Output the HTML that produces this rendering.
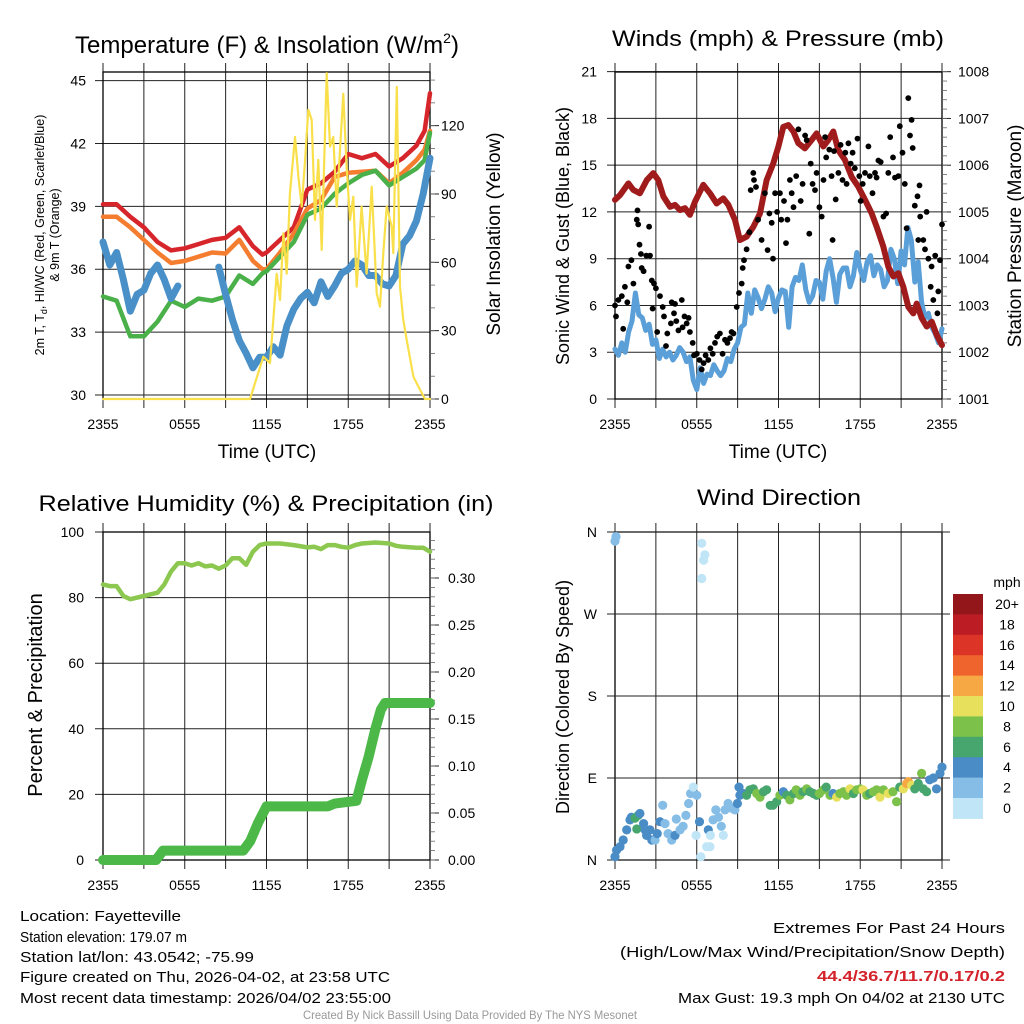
<!DOCTYPE html>
<html><head><meta charset="utf-8"><title>Mesonet Station Summary</title>
<style>
html,body{margin:0;padding:0;background:#fff;}
svg{display:block;font-family:"Liberation Sans",Arial,sans-serif;}
</style></head>
<body>
<svg id="chart" width="1024" height="1024" viewBox="0 0 1024 1024" xmlns="http://www.w3.org/2000/svg">
<rect x="0" y="0" width="1024" height="1024" fill="#fff"/>
<!-- Titles -->
<text x="267" y="53" font-size="24" text-anchor="middle">Temperature (F) &amp; Insolation (W/m<tspan font-size="14" dy="-10">2</tspan><tspan dy="10">)</tspan></text>
<text x="778" y="46" font-size="22" text-anchor="middle" textLength="332" lengthAdjust="spacingAndGlyphs">Winds (mph) &amp; Pressure (mb)</text>
<text x="266" y="511" font-size="22" text-anchor="middle" textLength="455" lengthAdjust="spacingAndGlyphs">Relative Humidity (%) &amp; Precipitation (in)</text>
<text x="779" y="505" font-size="22" text-anchor="middle" textLength="164" lengthAdjust="spacingAndGlyphs">Wind Direction</text>
<!-- Axis titles -->
<text x="267" y="458" font-size="19" text-anchor="middle">Time (UTC)</text>
<text x="778" y="458" font-size="19" text-anchor="middle">Time (UTC)</text>
<text transform="translate(44,235) rotate(-90)" font-size="12.5" text-anchor="middle">2m T, T<tspan font-size="9" dy="3">d</tspan><tspan dy="-3">, HI/WC (Red, Green, Scarlet/Blue)</tspan></text>
<text transform="translate(59,235) rotate(-90)" font-size="12.5" text-anchor="middle">&amp; 9m T (Orange)</text>
<text transform="translate(500,234) rotate(-90)" font-size="19" text-anchor="middle">Solar Insolation (Yellow)</text>
<text transform="translate(569,236) rotate(-90)" font-size="18" text-anchor="middle">Sonic Wind &amp; Gust (Blue, Black)</text>
<text transform="translate(1021,236) rotate(-90)" font-size="19" text-anchor="middle">Station Pressure (Maroon)</text>
<text transform="translate(42,695) rotate(-90)" font-size="20" text-anchor="middle">Percent &amp; Precipitation</text>
<text transform="translate(569,697) rotate(-90)" font-size="18" text-anchor="middle">Direction (Colored By Speed)</text>
<!-- Footer -->
<g font-size="14.5">
<text x="20" y="921" textLength="161" lengthAdjust="spacingAndGlyphs">Location: Fayetteville</text>
<text x="20" y="942" textLength="167" lengthAdjust="spacingAndGlyphs">Station elevation: 179.07 m</text>
<text x="20" y="962" textLength="234" lengthAdjust="spacingAndGlyphs">Station lat/lon: 43.0542; -75.99</text>
<text x="20" y="982" textLength="370" lengthAdjust="spacingAndGlyphs">Figure created on Thu, 2026-04-02, at 23:58 UTC</text>
<text x="20" y="1003" textLength="371" lengthAdjust="spacingAndGlyphs">Most recent data timestamp: 2026/04/02 23:55:00</text>
</g>
<g font-size="15" text-anchor="end">
<text x="1005" y="933" textLength="232" lengthAdjust="spacingAndGlyphs">Extremes For Past 24 Hours</text>
<text x="1005" y="957" textLength="385" lengthAdjust="spacingAndGlyphs">(High/Low/Max Wind/Precipitation/Snow Depth)</text>
<text x="1005" y="981" fill="#d3222a" font-weight="bold" textLength="188" lengthAdjust="spacingAndGlyphs">44.4/36.7/11.7/0.17/0.2</text>
<text x="1005" y="1003" textLength="327" lengthAdjust="spacingAndGlyphs">Max Gust: 19.3 mph On 04/02 at 2130 UTC</text>
</g>
<text x="470" y="1019" font-size="12" fill="#999" text-anchor="middle" textLength="334" lengthAdjust="spacingAndGlyphs">Created By Nick Bassill Using Data Provided By The NYS Mesonet</text>
<g id="layers"></g>
</svg>
<script>
// ---------- Panel 1 data ----------
const timeTickLabels = ["2355","0555","1155","1755","2355"];
const tempTimes = [0,1,2,3,4,5,6,7,8,9,10,11,11.7,12,13,14,15,16,17,18,19,20,21,22,23,23.6,24];
const tempRed = [39.1,39.1,38.5,38.0,37.3,36.9,37.0,37.2,37.4,37.5,38.0,37.1,36.7,36.8,37.4,38.0,39.8,40.1,40.65,41.5,41.3,41.5,40.9,41.3,41.9,42.6,44.4];
const tempOrange = [38.5,38.5,38.0,37.4,36.8,36.3,36.4,36.6,36.8,36.75,37.4,36.4,36.0,36.0,36.8,37.7,38.9,39.3,40.4,40.6,40.65,40.7,40.1,40.6,41.2,41.7,42.6];
const tempGreen = [34.7,34.5,32.8,32.8,33.5,34.5,34.2,34.6,34.5,34.7,35.7,35.3,35.8,35.9,36.6,37.3,38.6,38.9,39.6,40.1,40.5,40.7,40.0,40.4,40.8,41.2,42.5];
const blueTimes = [0,0.5,1,1.5,2,2.5,3,3.5,4,4.5,5,5.5,6,6.5,7,7.5,8,8.5,9,9.5,10,10.5,11,11.5,12,12.5,13,13.5,14,14.5,15,15.5,16,16.5,17,17.5,18,18.5,19,19.5,20,20.5,21,21.5,22,22.5,23,23.5,24];
const tempBlue = [37.3,36.2,36.8,35.5,34.0,34.8,35.0,35.8,36.2,35.5,34.6,35.2,null,null,null,null,null,36.1,34.8,33.6,32.6,32.0,31.3,31.8,31.8,32.3,31.9,33.3,34.1,34.6,34.9,34.4,35.4,34.7,35.2,35.8,36.0,36.4,36.2,35.7,35.7,35.3,35.2,35.7,37.2,37.6,38.3,39.6,41.3];
const solarTimes = [0,10.79,11.77,12.26,12.5,12.75,12.99,13.24,13.48,13.72,14.09,14.34,14.58,14.83,15.07,15.32,15.56,15.8,16.05,16.42,16.66,16.9,17.15,17.64,17.88,18.13,18.37,18.62,18.98,19.35,19.72,20.09,20.33,20.57,20.82,21.19,21.31,21.56,21.8,22.04,22.29,22.78,23.27,23.63,24];
const solarValues = [0,0,18.6,15.7,34.7,55,43.5,72.7,55,90,115,97.6,84.5,105,127,122.5,78.6,105,65.4,143,110.8,115,84.5,134,102,78.6,88.8,49.3,84.5,55,93.2,46.4,40.5,64,84.5,75.6,64,137,49.3,34.7,25.9,9.8,4,0,0];
const tempTicks = [30,33,36,39,42,45];
const solarTicks = [0,30,60,90,120];
// ---------- Panel 2 data ----------
const pressTimes = [0,0.37,0.98,1.35,1.83,2.33,2.81,3.18,3.55,4.04,4.4,4.77,5.14,5.5,5.87,6.48,6.97,7.46,7.95,8.32,8.81,9.17,9.66,10.15,10.64,11.13,11.62,11.99,12.35,12.72,13.09,13.45,13.94,14.44,14.8,15.29,15.66,16.02,16.39,16.88,17.37,17.86,18.35,18.84,19.21,19.69,20.06,20.43,20.79,21.16,21.53,21.89,22.14,22.51,22.88,23.25,23.61,24];
const pressValues = [1005.26,1005.36,1005.61,1005.47,1005.4,1005.68,1005.83,1005.68,1005.33,1005.11,1005.15,1005.04,1005.08,1004.94,1005.22,1005.58,1005.4,1005.18,1005.29,1005.15,1004.83,1004.4,1004.47,1004.68,1004.97,1005.68,1006.04,1006.4,1006.82,1006.86,1006.72,1006.47,1006.36,1006.54,1006.68,1006.4,1006.54,1006.72,1006.32,1006.11,1005.75,1005.54,1005.26,1004.97,1004.68,1004.26,1003.83,1003.62,1003.69,1003.4,1002.97,1002.83,1003.04,1002.73,1002.55,1002.65,1002.37,1002.15];
const windTimes = [0,0.25,0.5,0.75,1,1.25,1.5,1.75,2,2.25,2.5,2.75,3,3.25,3.5,3.75,4,4.25,4.5,4.75,5,5.25,5.5,5.75,6,6.25,6.5,6.75,7,7.25,7.5,7.75,8,8.25,8.5,8.75,9,9.25,9.5,9.75,10,10.25,10.5,10.75,11,11.25,11.5,11.75,12,12.25,12.5,12.75,13,13.25,13.5,13.75,14,14.25,14.5,14.75,15,15.25,15.5,15.75,16,16.25,16.5,16.75,17,17.25,17.5,17.75,18,18.25,18.5,18.75,19,19.25,19.5,19.75,20,20.25,20.5,20.75,21,21.25,21.5,21.75,22,22.25,22.5,22.75,23,23.25,23.5,23.75,24];
const windSpeed = [3.2,2.8,3.6,3.0,4.3,5.0,6.8,5.4,5.2,4.4,4.8,3.5,3.8,2.6,3.2,2.7,3.0,2.5,2.8,3.3,3.0,2.4,2.7,1.2,0.6,2.0,1.0,1.6,1.5,2.2,1.8,1.5,1.8,2.6,2.4,3.2,3.6,4.6,4.8,6.8,5.5,7.0,6.5,5.8,6.4,7.2,6.8,5.6,6.5,7.0,6.9,4.6,7.2,7.8,7.6,8.6,7.0,6.2,6.6,7.6,7.5,6.4,8.2,9.0,7.8,6.2,8.0,8.4,8.4,7.2,7.9,9.4,8.3,7.6,8.8,9.2,7.9,8.6,8.3,7.2,7.6,9.6,9.0,7.4,9.5,8.6,11.0,10.2,7.5,8.8,6.2,5.2,5.5,4.6,4.2,3.6,4.5];
const gustTimes = [0,0.07,0.25,0.5,0.6,0.73,0.9,0.98,1.2,1.35,1.6,1.65,1.7,1.8,1.9,1.96,2.1,2.3,2.57,2.5,2.7,2.76,2.86,3.0,3.1,3.3,3.5,3.6,3.74,3.84,4.1,4.16,4.33,4.4,4.5,4.65,4.9,4.96,5.1,5.26,5.4,5.5,5.7,5.8,6.0,6.2,6.36,6.5,6.65,6.85,7.0,7.17,7.34,7.5,7.7,7.9,8.07,8.25,8.44,8.56,8.7,8.93,9.1,9.3,9.37,9.47,9.66,9.86,9.96,10.15,10.2,10.35,10.5,10.76,11.0,11.2,11.33,11.5,11.6,11.75,11.9,12.1,12.2,12.4,12.55,12.65,12.84,12.97,13.1,13.3,13.46,13.63,13.77,13.95,14.07,14.26,14.36,14.5,14.68,14.8,15.0,15.17,15.3,15.42,15.5,15.73,15.9,15.97,16.07,16.2,16.4,16.56,16.7,16.9,17.0,17.13,17.3,17.44,17.6,17.8,17.93,18.03,18.18,18.35,18.6,18.7,18.9,19.08,19.2,19.33,19.5,19.7,19.9,20.06,20.2,20.4,20.55,20.8,20.9,21.1,21.27,21.4,21.53,21.65,21.77,21.85,22.0,22.2,22.35,22.4,22.26,22.63,22.75,22.87,23.0,23.17,23.24,23.36,23.5,23.66,23.73,23.85,24];
const gustValues = [6.0,5.3,6.35,6.6,4.5,7.2,6.2,8.5,8.9,7.4,11.5,12.1,11.2,9.9,9.3,8.4,8.2,9.2,9.2,11.05,7.6,5.8,7.4,7.1,4.3,6.6,5.9,5.3,3.4,4.2,4.85,6.2,5.5,6.1,5.0,4.4,6.35,4.6,5.3,4.85,5.2,4.3,3.6,2.8,2.9,2.5,1.9,2.3,2.8,2.5,3.25,2.9,3.6,4.0,4.2,2.9,3.8,3.6,3.9,4.3,4.2,5.9,6.8,7.4,8.4,8.9,9.6,10.7,13.4,14.5,14.05,13.6,11.5,10.2,13.2,9.55,11.9,11.3,9.0,13.2,12.0,13.2,11.5,12.7,10.0,11.5,14.05,13.2,12.3,14.3,17.3,12.7,13.8,16.9,16.6,10.6,15.1,13.8,13.4,14.5,12.3,11.7,14.05,16.8,15.5,16.0,14.3,10.2,15.9,12.8,14.5,16.3,14.05,15.8,13.8,16.4,15.1,15.8,14.8,16.7,14.3,12.7,13.8,14.5,16.2,14.3,13.2,14.5,14.2,15.3,15.2,11.7,11.9,14.5,16.8,15.5,14.2,14.3,17.5,15.8,13.8,10.95,19.3,16.9,17.9,16.1,12.4,13.0,13.7,11.7,10.2,10.2,9.6,12.0,9.0,7.2,8.5,6.35,9.2,5.5,6.9,8.9,11.2];
const windTicks = [0,3,6,9,12,15,18,21];
const pressTicks = [1001,1002,1003,1004,1005,1006,1007,1008];
// ---------- Panel 3 data ----------
const rhTimes = [0,0.5,1,1.5,2,3,4,4.5,5,5.5,6,6.5,7,7.5,8,8.5,9,9.5,10,10.5,11,11.5,12,13,14,15,15.5,16,16.5,17,17.5,18,18.5,19,20,21,21.5,22,23,23.5,24];
const rhValues = [84,83.5,83.5,80.5,79.5,80.5,81.5,84,88,90.5,90.5,89.8,90.5,89.5,89.8,88.8,89.8,92,92,90,94,96,96.5,96.5,96,95.3,95.5,94.8,96,96,95.5,95.2,96,96.5,96.8,96.5,95.8,95.5,95.2,95.2,94];
const precipTimes = [0,3.9,4.4,10.3,10.8,11.4,12.0,16.5,17.0,18.6,19.0,19.5,20.0,20.4,20.7,24];
const precipValues = [0,0,0.01,0.01,0.02,0.04,0.057,0.057,0.06,0.063,0.085,0.11,0.14,0.16,0.167,0.167];
const rhTicks = [0,20,40,60,80,100];
const precipTicks = [0,0.05,0.10,0.15,0.20,0.25,0.30];
// ---------- Panel 4 data ----------
const dirTimes = [0,0.07,0,0.12,0.37,0.6,0.86,1.1,1.2,1.47,1.7,1.6,1.83,2.1,2.2,2.32,2.57,2.7,2.94,3.1,3.3,3.5,3.67,3.9,4.16,4.4,4.5,4.77,5.0,5.2,5.4,5.55,5.75,6.0,6.2,5.95,6.3,6.36,6.5,6.6,6.36,6.73,6.97,6.85,7.0,7.2,7.4,7.6,7.8,7.95,8.07,8.3,8.56,8.8,8.98,9.1,9.17,9.4,9.66,9.9,10.15,10.4,10.64,10.9,11.13,11.4,11.6,11.87,12.1,12.35,12.6,12.84,13.1,13.3,13.58,13.8,14.07,14.3,14.56,14.8,15.0,15.3,15.5,15.78,16.0,16.27,16.5,16.76,17.0,17.25,17.5,17.74,18.0,18.2,18.47,18.7,18.96,19.2,19.45,19.7,20.06,20.4,20.67,20.9,21.16,21.4,21.53,21.77,22.0,22.26,22.5,22.63,22.87,23.1,23.36,23.6,23.85,24];
const dirDegrees = [350,355,3.6,10.9,14.6,22,33,44,47,46,49,34,51,40,33,27,33,22,22,29,42,60,40,29,22,27,45,33,37,49,62,73,80,71,42,27,3.6,347.6,329,335,309,14.6,14.6,33,27,44,55,47,37,27,55,62,57,55,62,80,71,73,71,77,78,73,69,75,77,60,60,64,71,75,71,66,73,77,71,75,78,75,73,71,73,77,80,71,73,69,73,75,71,78,73,77,78,77,71,73,75,77,69,77,73,75,64,80,78,84,86,82,78,84,95,78,75,88,90,78,95,102];
const dirSpeeds = [2.5,2.5,4.5,4.5,4.5,4.5,4.5,4.5,4.5,6.5,6.5,6.5,4.5,4.5,4.5,4.5,4.5,4.5,2.5,4.5,4.5,2.5,2.5,2.5,2.5,4.5,2.5,2.5,2.5,2.5,2.5,2.5,0.5,2.5,4.5,0.5,0.5,0.5,0.5,0.5,0.5,0.5,0.5,4.5,0.5,2.5,2.5,2.5,2.5,0.5,2.5,2.5,2.5,2.5,4.5,4.5,4.5,4.5,6.5,6.5,6.5,8.5,8.5,6.5,6.5,6.5,6.5,6.5,8.5,4.5,6.5,8.5,6.5,8.5,8.5,6.5,8.5,6.5,6.5,6.5,8.5,8.5,6.5,8.5,4.5,10.5,8.5,8.5,8.5,10.5,6.5,8.5,8.5,10.5,8.5,6.5,8.5,8.5,10.5,8.5,10.5,8.5,8.5,6.5,10.5,12.5,12.5,10.5,6.5,6.5,8.5,6.5,6.5,4.5,4.5,4.5,4.5,4.5];
const speedBinLabels = ["0","2","4","6","8","10","12","14","16","18","20+"];
const speedBinColors = ["#bfe5f7","#85bde6","#4a8cc6","#47a66e","#7cc14a","#e7e05c","#f5a843","#ef632c","#dd3428","#bc1d24","#92161a"];
const dirTickLabels = ["N","E","S","W","N"];
const dirTickValues = [0,90,180,270,360];

// ---------- drawing helpers ----------
const NS = "http://www.w3.org/2000/svg";
const root = document.getElementById("layers");
function mk(tag, parent, name, interact) {
  const el = document.createElementNS(NS, tag);
  
  
  parent.appendChild(el);
  return el;
}
function set(el, attrs) { for (const k in attrs) el.setAttribute(k, attrs[k]); return el; }
function group(name) { return mk('g', root, name, false); }

const P1 = {x0:103, x1:430, top:72, bottom:399};
const P2 = {x0:615, x1:942, top:72, bottom:399};
const P3 = {x0:103, x1:430, top:532, bottom:860};
const P4 = {x0:615, x1:942, top:532, bottom:860};
function xScale(P){ return t => P.x0 + t * (P.x1 - P.x0) / 24; }
const x1s = xScale(P1), x2s = xScale(P2), x3s = xScale(P3), x4s = xScale(P4);
const yTemp = v => 395 - (v - 30) * 20.96;
const ySolar = v => 399 - v * 2.278;
const yWind = v => 399 - v * 15.59;
const yPress = p => 399 - (p - 1001) * 46.76;
const yRH = v => 860 - v * 3.28;
const yPrecip = v => 860 - v * 940;
const yDir = d => 860 - d * 0.9111;

function pathFrom(times, vals, xs, ys) {
  let d = "", pen = false;
  for (let i = 0; i < times.length; i++) {
    if (vals[i] === null) { pen = false; continue; }
    d += (pen ? "L" : "M") + xs(times[i]).toFixed(1) + " " + ys(vals[i]).toFixed(1);
    pen = true;
  }
  return d;
}
function drawFrame(P, key, yTicksVals, ys, labelFmt, labelX) {
  const g = group(key + '-axes');
  for (let h = 0; h <= 24; h += 3) {
    const x = P.x0 + h * (P.x1 - P.x0) / 24;
    const ln = mk('line', g, key + '-x-gridline', false);
    set(ln, {x1:x, x2:x, y1:P.top - 9, y2:P.bottom + 9, stroke:'#222', 'stroke-width':1});
  }
  yTicksVals.forEach((v) => {
    const y = ys(v);
    const ln = mk('line', g, key + '-y-gridline', false);
    set(ln, {x1:P.x0 - 8, x2:P.x1, y1:y, y2:y, stroke:'#222', 'stroke-width':1});
    const tx = mk('text', g, key + '-y-tick-label', false);
    set(tx, {x:labelX, y:y + 5, 'font-size':14, 'text-anchor':'end'});
    tx.textContent = labelFmt(v);
  });
  const fr = mk('rect', g, key + '-plot-frame', false);
  set(fr, {x:P.x0, y:P.top, width:P.x1 - P.x0, height:P.bottom - P.top, fill:'none', stroke:'#000', 'stroke-width':1.3});
  timeTickLabels.forEach((lab, i) => {
    const tx = mk('text', g, key + '-x-tick-label', false);
    set(tx, {x:P.x0 + i * 6 * (P.x1 - P.x0) / 24, y:P.bottom + 30, 'font-size':14, 'text-anchor':'middle'});
    tx.textContent = lab;
  });
  return g;
}
function rightAxis(P, key, ticks, ys, fmt, labelX, minorStep, minorMin, minorMax) {
  const g = group(key + '-right-axis');
  ticks.forEach(v => {
    const y = ys(v);
    const tk = mk('line', g, key + '-right-tick', false);
    set(tk, {x1:P.x1, x2:P.x1 + 9, y1:y, y2:y, stroke:'#222', 'stroke-width':1});
    const tx = mk('text', g, key + '-right-tick-label', false);
    set(tx, {x:labelX, y:y + 5, 'font-size':14});
    tx.textContent = fmt(v);
  });
  for (let m = minorMin; m <= minorMax + 1e-9; m += minorStep) {
    const y = ys(m);
    if (y < P.top - 1 || y > P.bottom + 1) continue;
    const tk = mk('line', g, key + '-right-minor-tick', false);
    set(tk, {x1:P.x1, x2:P.x1 + 5, y1:y, y2:y, stroke:'#666', 'stroke-width':0.8});
  }
}
function series(times, vals, xs, ys, color, width, name, parent) {
  const p = mk('path', parent, name, false);
  set(p, {d:pathFrom(times, vals, xs, ys), fill:'none', stroke:color, 'stroke-width':width, 'stroke-linejoin':'round', 'stroke-linecap':'round'});
  return p;
}

// ---------- Panel 1 ----------
drawFrame(P1, 'temperature', tempTicks, yTemp, v => String(v), 86);
rightAxis(P1, 'insolation', solarTicks, ySolar, v => String(v), 441, 10, 0, 140);
const g1 = group('temperature-series');
series(tempTimes, tempRed, x1s, yTemp, '#d7262b', 4.5, 'temperature-2m-line', g1);
series(tempTimes, tempOrange, x1s, yTemp, '#f47d30', 4.5, 'temperature-9m-line', g1);
series(tempTimes, tempGreen, x1s, yTemp, '#4ab04a', 4.5, 'dewpoint-line', g1);
series(blueTimes, tempBlue, x1s, yTemp, '#4a90c8', 7, 'windchill-line', g1);
series(solarTimes, solarValues, x1s, ySolar, '#f9e04b', 2.2, 'solar-insolation-line', g1);

// ---------- Panel 2 ----------
drawFrame(P2, 'wind', windTicks, yWind, v => String(v), 597);
rightAxis(P2, 'pressure', pressTicks, yPress, v => String(v), 958, 0.2, 1001, 1008);
const g2 = group('wind-series');
series(windTimes, windSpeed, x2s, yWind, '#5b9fd8', 5, 'sonic-wind-line', g2);
series(pressTimes, pressValues, x2s, yPress, '#a01c1c', 6, 'station-pressure-line', g2);
for (let i = 0; i < gustTimes.length; i++) {
  const c = mk('circle', g2, 'gust-point', false);
  set(c, {cx:x2s(gustTimes[i]).toFixed(1), cy:yWind(gustValues[i]).toFixed(1), r:2.9, fill:'#000'});
}

// ---------- Panel 3 ----------
drawFrame(P3, 'humidity', rhTicks, yRH, v => String(v), 84);
rightAxis(P3, 'precipitation', precipTicks, yPrecip, v => v.toFixed(2), 448, 0.01, 0, 0.34);
const g3 = group('humidity-series');
series(rhTimes, rhValues, x3s, yRH, '#8cc850', 4.5, 'relative-humidity-line', g3);
series(precipTimes, precipValues, x3s, yPrecip, '#4cb848', 10, 'precipitation-line', g3);

// ---------- Panel 4 ----------
drawFrame(P4, 'direction', [], yDir, v => '', 597);
const g4a = group('direction-y-axis');
dirTickValues.forEach((d, i) => {
  const y = yDir(d);
  const ln = mk('line', g4a, 'direction-y-gridline', false);
  set(ln, {x1:P4.x0 - 8, x2:P4.x1 + 8, y1:y, y2:y, stroke:'#222', 'stroke-width':1});
  const tx = mk('text', g4a, 'direction-y-tick-label', false);
  set(tx, {x:597, y:y + 5, 'font-size':14, 'text-anchor':'end'});
  tx.textContent = dirTickLabels[i];
});
const g4 = group('direction-series');
for (let i = 0; i < dirTimes.length; i++) {
  const bin = Math.min(10, Math.floor(dirSpeeds[i] / 2));
  const c = mk('circle', g4, 'direction-point', false);
  set(c, {cx:x4s(dirTimes[i]).toFixed(1), cy:yDir(dirDegrees[i]).toFixed(1), r:4.6, fill:speedBinColors[bin]});
}
// colorbar
const gl = group('speed-colorbar');
const cbTop = 594, cbH = 20.4;
const mphLbl = mk('text', gl, 'colorbar-unit-label', false);
set(mphLbl, {x:1007, y:587, 'font-size':14, 'text-anchor':'middle'});
mphLbl.textContent = 'mph';
for (let k = 0; k < speedBinLabels.length; k++) {
  const idx = speedBinLabels.length - 1 - k;
  const r = mk('rect', gl, 'colorbar-bin', false);
  set(r, {x:953, y:(cbTop + k * cbH).toFixed(1), width:30, height:(cbH + 0.5).toFixed(1), fill:speedBinColors[idx]});
  const tx = mk('text', gl, 'colorbar-label', false);
  set(tx, {x:1007, y:(cbTop + k * cbH + 15).toFixed(1), 'font-size':14, 'text-anchor':'middle'});
  tx.textContent = speedBinLabels[idx];
}
</script>
</body></html>
